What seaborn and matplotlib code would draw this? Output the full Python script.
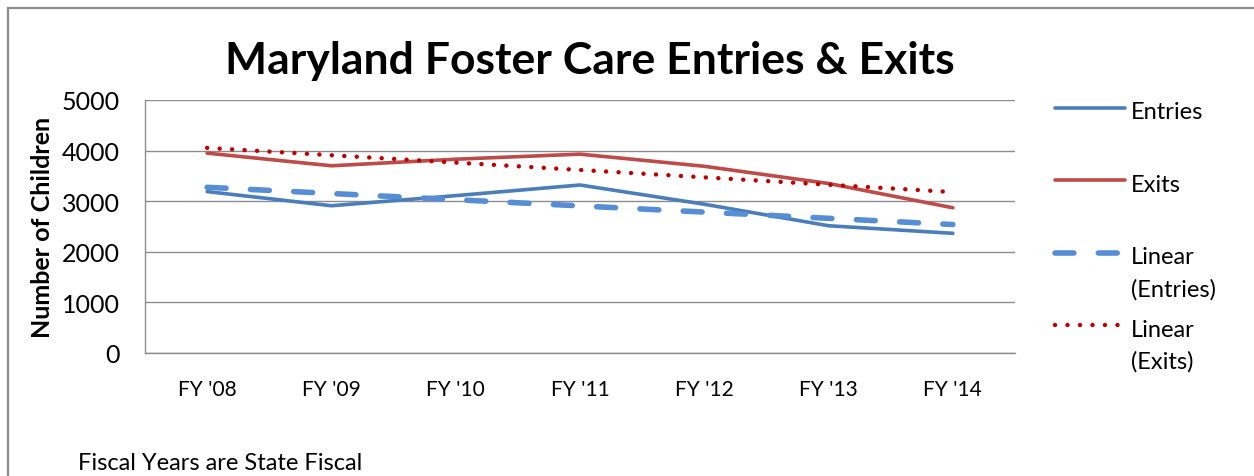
import numpy as np
import pandas as pd
import seaborn as sns
import matplotlib
matplotlib.use("Agg")
import matplotlib.pyplot as plt
from matplotlib.patches import Rectangle
from matplotlib.lines import Line2D
from matplotlib.legend_handler import HandlerLine2D

# ---- data ----
years = ["FY '08", "FY '09", "FY '10", "FY '11", "FY '12", "FY '13", "FY '14"]
entries = [3190, 2910, 3110, 3320, 2940, 2515, 2365]
exits = [3950, 3700, 3830, 3930, 3690, 3350, 2870]
y_ticks = [0, 1000, 2000, 3000, 4000, 5000]

title = "Maryland Foster Care Entries & Exits"
ylabel = "Number of Children"
footnote = "Fiscal Years are State Fiscal"
legend_labels = ["Entries\n", "Exits\n", "Linear\n(Entries)", "Linear\n(Exits)"]

sns.set_style("white")
plt.rcParams['font.family'] = ['Lato', 'DejaVu Sans']
plt.rcParams.update({"text.color": "black", "axes.labelcolor": "black",
                     "xtick.color": "black", "ytick.color": "black"})

W, H = 1254, 477
fig = plt.figure(figsize=(W / 100, H / 100), dpi=100)
ax = fig.add_axes([145 / W, 1 - 354 / H, (1015 - 145) / W, (354 - 101) / H])

xpos = np.arange(len(years))
df = pd.DataFrame({"x": xpos, "Entries": entries, "Exits": exits})

# linear trendlines (least squares, like Excel "Linear" trendline)
pe = np.polyfit(xpos, entries, 1)
px = np.polyfit(xpos, exits, 1)
df["LinEntries"] = np.polyval(pe, xpos)
df["LinExits"] = np.polyval(px, xpos)

c_ent = "#4A7EBB"
c_exi = "#BE4B48"
c_lent = "#558ED5"
c_lexi = "#C00000"
dash_style = (0, (3.4, 4.4))
dot_style = (0, (0.01, 2.8))

sns.lineplot(data=df, x="x", y="Entries", ax=ax, color=c_ent, lw=2.6, solid_capstyle="round", zorder=3)
sns.lineplot(data=df, x="x", y="Exits", ax=ax, color=c_exi, lw=2.6, solid_capstyle="round", zorder=3)
sns.lineplot(data=df, x="x", y="LinEntries", ax=ax, color=c_lent, lw=4.0,
             linestyle=dash_style, dash_capstyle="round", zorder=4)
sns.lineplot(data=df, x="x", y="LinExits", ax=ax, color=c_lexi, lw=3.2,
             linestyle=dot_style, dash_capstyle="round", zorder=5)

ax.set_xlim(-0.5, len(years) - 0.5)
ax.set_ylim(0, 5000)
ax.set_xticks(xpos)
ax.set_xticklabels(years, fontsize=15)
ax.set_yticks(y_ticks)
ax.set_yticklabels([str(v) for v in y_ticks], fontsize=18)
ax.tick_params(axis="both", length=0)
ax.tick_params(axis="x", pad=19)
ax.tick_params(axis="y", pad=18)
ax.grid(axis="y", color="#8C8C8C", lw=1.0)
ax.set_axisbelow(True)
for s in ["top", "right"]:
    ax.spines[s].set_visible(False)
for s in ["left", "bottom"]:
    ax.spines[s].set_color("#8C8C8C")
    ax.spines[s].set_linewidth(1.0)
ax.set_xlabel("")
ax.set_ylabel(ylabel, fontsize=18, fontweight="bold")
ax.yaxis.set_label_coords(-91 / (1015 - 145), 0.5)

fig.text(590 / W, 1 - 61 / H, title, fontsize=32, fontweight="bold", ha="center", va="center")
fig.text(78 / W, 1 - 464 / H, footnote, fontsize=17, ha="left", va="center")


class FirstLineHandler(HandlerLine2D):
    """Place the legend sample beside the first line of a two-line label."""
    def __init__(self, dy, **kw):
        super().__init__(**kw)
        self.dy = dy

    def create_artists(self, legend, orig_handle, xdescent, ydescent, width, height, fontsize, trans):
        arts = super().create_artists(legend, orig_handle, xdescent, ydescent, width, height, fontsize, trans)
        for a in arts:
            a.set_ydata(np.asarray(a.get_ydata()) + self.dy)
        return arts


handles = [
    Line2D([], [], color=c_ent, lw=2.6, solid_capstyle="round"),
    Line2D([], [], color=c_exi, lw=2.6, solid_capstyle="round"),
    Line2D([], [], color=c_lent, lw=4.0, linestyle=dash_style, dash_capstyle="round"),
    Line2D([], [], color=c_lexi, lw=3.2, linestyle=dot_style, dash_capstyle="round"),
]
hm = {h: FirstLineHandler(14.5) for h in handles}
leg = fig.legend(handles, legend_labels, loc="upper left", bbox_to_anchor=(1046 / W, 1 - 93 / H),
                 frameon=False, fontsize=17, handlelength=2.95, handletextpad=0.25,
                 labelspacing=0.83, borderaxespad=0, handler_map=hm)
for t in leg.get_texts():
    t.set_linespacing(1.62)

fig.add_artist(Rectangle((8 / W, -0.2), 2.0, (H - 9) / H + 0.2, transform=fig.transFigure,
                         fill=False, ec="#8C8C8C", lw=1.6))

fig.savefig("out.png", dpi=100)
